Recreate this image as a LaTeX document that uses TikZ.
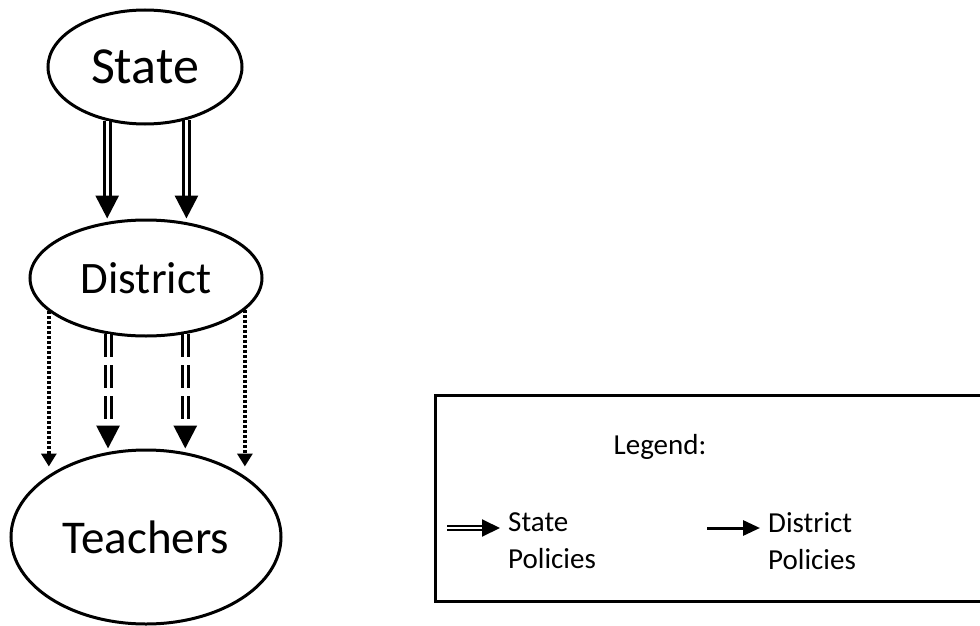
\documentclass[tikz,border=0pt]{standalone}
\usepackage{fontspec}
\setmainfont{Carlito}
\usetikzlibrary{positioning,arrows.meta,calc,shapes.geometric}
\tikzset{
  lvl/.style={ellipse,draw,line width=3pt,inner sep=0pt},
  stpol/.style={double,double distance=3pt,line width=3pt,
    -{Triangle[length=23pt,width=23pt]}},          % state policy
  dtpol/.style={stpol,dash pattern=on 23pt off 8pt}, % state policy via district
  dipol/.style={line width=3.5pt,dash pattern=on 3pt off 2pt,
    -{Triangle[length=13pt,width=15pt]}},          % district policy
  legbox/.style={draw,line width=3pt},
  legtxt/.style={font=\fontsize{29}{37}\selectfont,align=left,inner sep=0pt},
}
\begin{document}
\begin{tikzpicture}[x=1pt,y=-1pt]
  \useasboundingbox (0,0) rectangle (980,626);
  % three levels
  \node[lvl,minimum width=194pt,minimum height=114pt,font=\fontsize{52}{60}\selectfont]
    (st) at (145,67) {State};
  \node[lvl,minimum width=232pt,minimum height=116pt,font=\fontsize{45}{54}\selectfont]
    (ds) at (146,278) {District};
  \node[lvl,minimum width=270pt,minimum height=174pt,font=\fontsize{47}{56}\selectfont]
    (tc) at (146,537) {Teachers};
  % state -> district
  \draw[stpol] (st.-125) -- (st.-125 |- ds.north);
  \draw[stpol] (st.-52.4) -- (st.-52.4 |- ds.north);
  % district -> teachers
  \draw[dtpol] (ds.-124.7) -- (ds.-124.7 |- tc.north);
  \draw[dtpol] (ds.-55.4) -- (ds.-55.4 |- tc.north);
  \draw[dipol] (ds.-161.2) -- ([yshift=-18pt]ds.-161.2 |- tc.north);
  \draw[dipol] (ds.-18.8) -- ([yshift=-18pt]ds.-18.8 |- tc.north);
  % legend
  \draw[legbox] (435,395) rectangle (995,601);
  \node[legtxt] (lg) at (660,447) {Legend:};
  \coordinate (sa) at (447,528);
  \node[legtxt,anchor=west] (sp) at (508,541) {State\\Policies};
  \draw[double,double distance=2pt,line width=2pt,shorten >=8pt,
    -{Triangle[length=18pt,width=17pt]}] (sa) -- (sp.west |- sa);
  \coordinate (da) at (707,528);
  \node[legtxt,anchor=west] (dp) at (768,541) {District\\Policies};
  \draw[line width=3pt,shorten >=8pt,
    -{Triangle[length=17pt,width=15pt]}] (da) -- (dp.west |- da);
\end{tikzpicture}
\end{document}
